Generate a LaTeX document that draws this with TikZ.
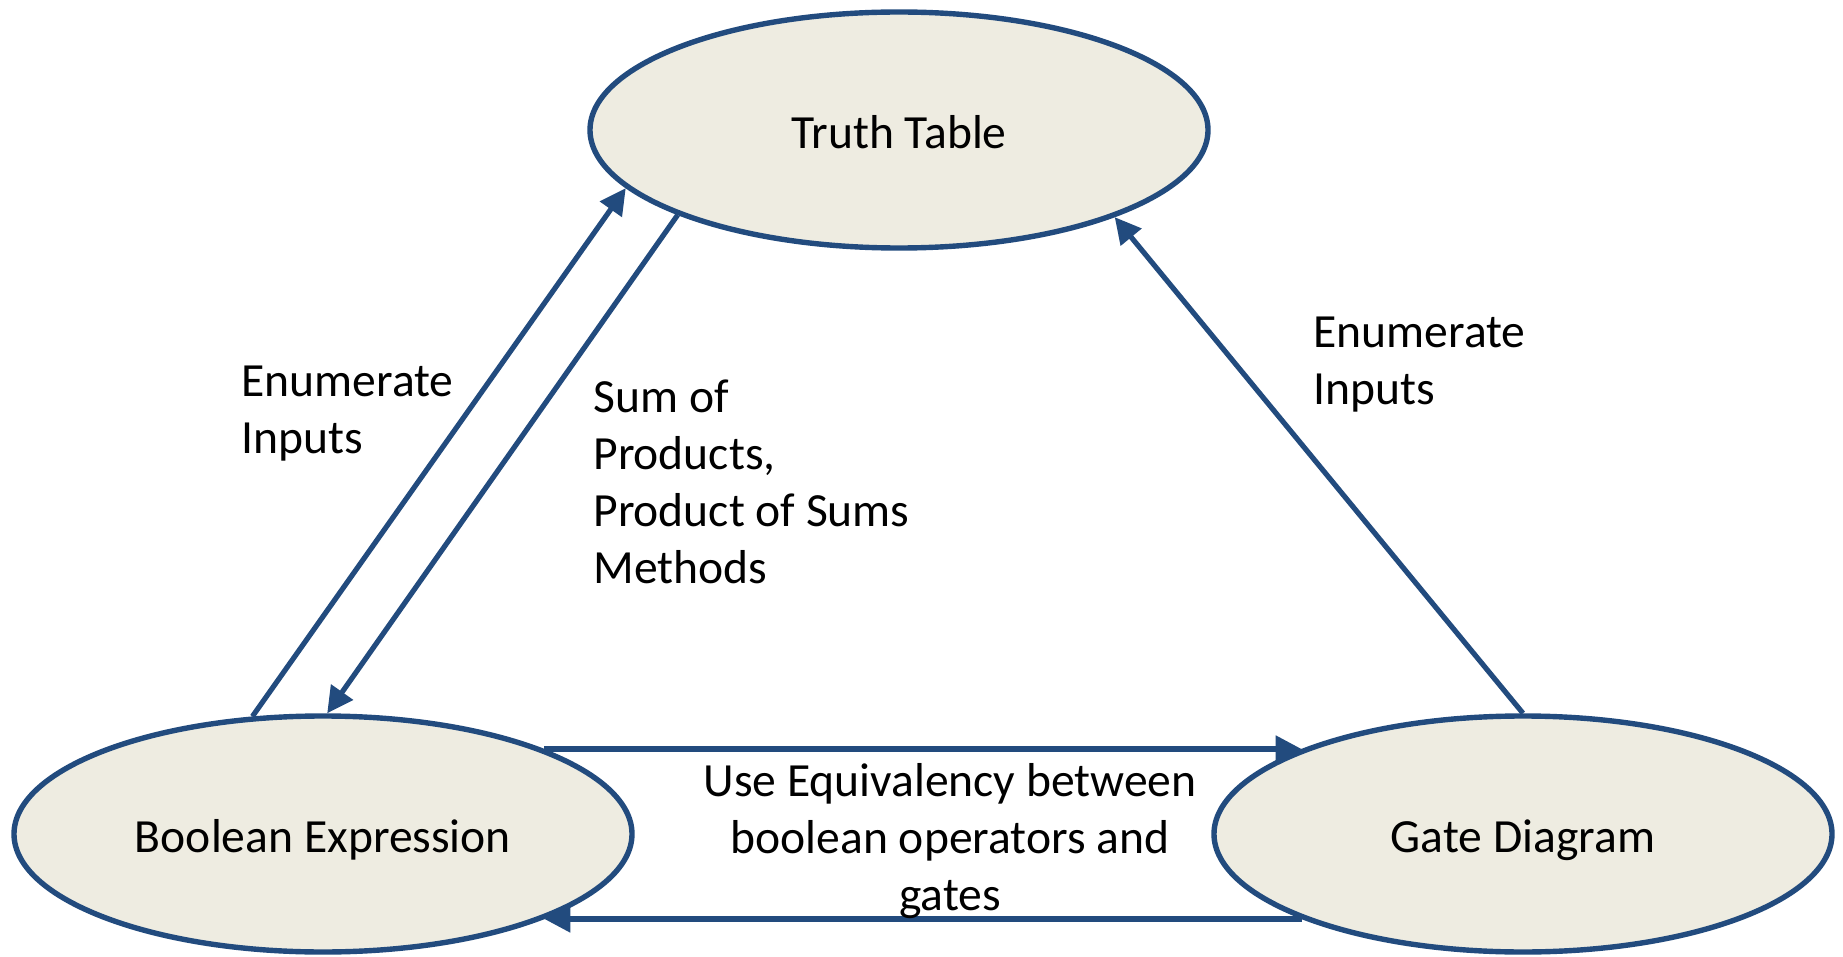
\documentclass[tikz,border=0pt]{standalone}
\usepackage{fontspec}
\setmainfont{Carlito}
\usetikzlibrary{arrows.meta,shapes.geometric}
\definecolor{edgeblue}{HTML}{224B7E}
\definecolor{statebg}{HTML}{EEECE1}
\begin{document}
\begin{tikzpicture}[x=0.5pt,y=-0.5pt,
  state/.style={ellipse, draw=edgeblue, fill=statebg, line width=2.7pt,
    minimum width=309pt, minimum height=118pt, inner sep=0pt,
    text height=18.6pt, text depth=0pt,
    font=\fontsize{23.8}{28.5}\selectfont},
  link/.style={draw=edgeblue, line width=2.6pt, -{Triangle[length=13pt,width=13pt]}},
  lbl/.style={font=\fontsize{23.8}{28.5}\selectfont, inner sep=0pt}]
\useasboundingbox (0,0) rectangle (1843,957);

\node[state] (tt) at (899,130) {Truth Table};
\node[state] (be) at (323,834) {Boolean Expression};
\node[state] (gd) at (1523,834) {Gate Diagram};

\draw[link] (be.121) -- (tt.192);
\draw[link] (tt.201.6) -- (be.88);
\draw[link] (gd.90.7) -- (tt.338.5);
\draw[link] (be.21) -- (gd.159);
\draw[link] (gd.201) -- (be.339);

\node[lbl, align=left, anchor=base west] (l1) at (241,453) {Enumerate\\Inputs};
\node[lbl, align=left, anchor=base west] (l2) at (1313,405) {Enumerate\\Inputs};
\node[lbl, align=left, anchor=base west] (l3) at (593,583) {Sum of\\Products,\\Product of Sums\\Methods};
\node[lbl, align=center, anchor=base] (l4) at (950,910) {Use Equivalency between\\boolean operators and\\gates};
\end{tikzpicture}
\end{document}
